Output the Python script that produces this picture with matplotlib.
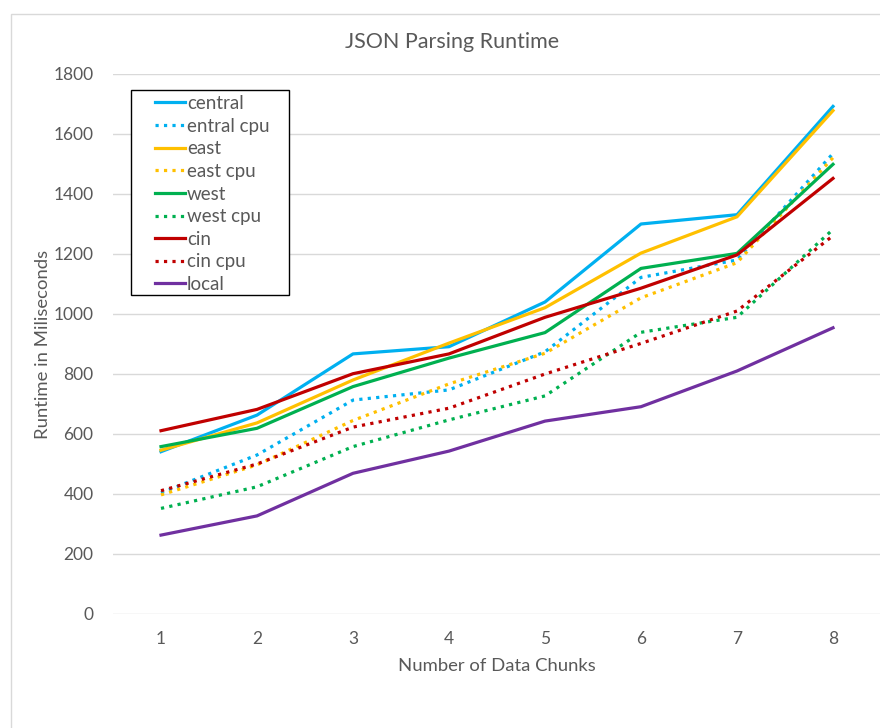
import matplotlib.pyplot as plt
from matplotlib.patches import Rectangle

plt.rcParams['font.family'] = ['Lato', 'DejaVu Sans']

chunks = [1, 2, 3, 4, 5, 6, 7, 8]

central = [541, 663, 867, 891, 1040, 1300, 1331, 1692]
central_cpu = [404, 530, 713, 747, 874, 1122, 1180, 1535]
east = [546, 637, 780, 903, 1021, 1203, 1324, 1678]
east_cpu = [397, 497, 645, 767, 869, 1054, 1171, 1521]
west = [558, 619, 758, 853, 938, 1152, 1202, 1499]
west_cpu = [352, 424, 558, 647, 727, 939, 989, 1282]
cin = [611, 682, 801, 867, 989, 1086, 1197, 1452]
cin_cpu = [411, 500, 623, 686, 800, 902, 1010, 1261]
local = [263, 327, 469, 543, 643, 691, 810, 954]

series = [
    ('central', central, '#00B0F0', '-'),
    ('entral cpu', central_cpu, '#00B0F0', ':'),
    ('east', east, '#FFC000', '-'),
    ('east cpu', east_cpu, '#FFC000', ':'),
    ('west', west, '#00B050', '-'),
    ('west cpu', west_cpu, '#00B050', ':'),
    ('cin', cin, '#C00000', '-'),
    ('cin cpu', cin_cpu, '#C00000', ':'),
    ('local', local, '#7030A0', '-'),
]

txt = '#595959'
fig = plt.figure(figsize=(8.8, 7.28), dpi=100)
fig.patches.append(Rectangle((11 / 880, -0.01), 1.0, (728 - 14) / 728 + 0.01,
                             transform=fig.transFigure, fill=False,
                             edgecolor='#d9d9d9', linewidth=1))
ax = fig.add_axes([113 / 880, 114 / 728, 768 / 880, 540 / 728])

for name, vals, col, ls in series:
    ax.plot(chunks, vals, color=col, linestyle=ls, linewidth=2.3, label=name)

ax.set_xlim(0.5, 8.5)
ax.set_ylim(0, 1800)
ax.set_yticks(range(0, 1801, 200))
ax.set_xticks(chunks)
ax.grid(axis='y', color='#d9d9d9', linewidth=1)
ax.set_axisbelow(True)
for s in ax.spines.values():
    s.set_visible(False)
ax.tick_params(length=0, labelsize=12.5, colors=txt, pad=12)
ax.tick_params(axis='y', pad=14)

fig.text(452 / 880, (728 - 42) / 728, 'JSON Parsing Runtime', fontsize=15.5,
         color=txt, ha='center', va='center')
ax.set_xlabel('Number of Data Chunks', fontsize=13.3, color=txt, labelpad=8)
ax.set_ylabel('Runtime in Miliseconds', fontsize=13.3, color=txt, labelpad=2)

# legend frame drawn separately so the padding matches
ax.add_patch(Rectangle((18 / 768, 319 / 540), 158 / 768, 205 / 540,
                       transform=ax.transAxes, fill=True, facecolor='white',
                       edgecolor='black', linewidth=1, zorder=4))
leg = ax.legend(loc='upper left', bbox_to_anchor=(42 / 768, 519 / 540),
                fontsize=13.5, frameon=False, handlelength=1.6,
                handletextpad=0.1, labelspacing=0.3, borderpad=0,
                borderaxespad=0)
leg.set_zorder(5)
for t in leg.get_texts():
    t.set_color(txt)

plt.savefig('out.png', dpi=100)
